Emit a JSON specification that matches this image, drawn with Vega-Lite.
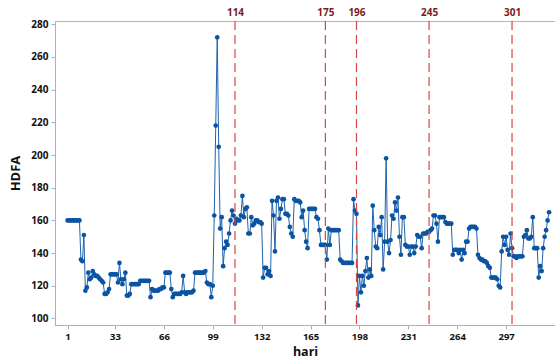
{
  "$schema": "https://vega.github.io/schema/vega-lite/v6.json",
  "autosize": {"type": "none"},
  "width": 500,
  "height": 304,
  "padding": {"left": 55, "top": 21, "right": 0, "bottom": 36},
  "background": "white",
  "config": {
    "view": {"stroke": "#b5b5b5", "strokeWidth": 1},
    "axis": {
      "grid": false,
      "domainColor": "#b0b0b0",
      "tickColor": "#b0b0b0",
      "tickSize": 4,
      "labelFont": "Open Sans",
      "labelFontWeight": "bold",
      "labelFontSize": 10,
      "labelColor": "#111111",
      "titleFont": "Open Sans",
      "titleFontWeight": "bold",
      "titleFontSize": 13,
      "titleColor": "#111111"
    }
  },
  "datasets": {
    "series": [
      {"d":1,"v":160},{"d":2,"v":160},{"d":3,"v":160},{"d":4,"v":160},{"d":5,"v":160},{"d":6,"v":160},{"d":7,"v":160},{"d":8,"v":160},{"d":9,"v":160},
      {"d":10,"v":136},{"d":11,"v":135},{"d":12,"v":151},{"d":13,"v":117},{"d":14,"v":119},{"d":15,"v":128},{"d":16,"v":124},{"d":17,"v":125},{"d":18,"v":129},{"d":19,"v":127},{"d":20,"v":126},
      {"d":21,"v":126},{"d":22,"v":125},{"d":23,"v":124},{"d":24,"v":123},{"d":25,"v":122},{"d":26,"v":115},{"d":27,"v":115},{"d":28,"v":116},{"d":29,"v":118},{"d":30,"v":127},
      {"d":31,"v":127},{"d":32,"v":127},{"d":33,"v":127},{"d":34,"v":127},{"d":35,"v":122},{"d":36,"v":134},{"d":37,"v":124},{"d":38,"v":121},{"d":39,"v":124},{"d":40,"v":128},
      {"d":41,"v":114},{"d":42,"v":114},{"d":43,"v":115},{"d":44,"v":121},{"d":45,"v":121},{"d":46,"v":121},{"d":47,"v":121},{"d":48,"v":121},{"d":49,"v":121},{"d":50,"v":123},
      {"d":51,"v":123},{"d":52,"v":123},{"d":53,"v":123},{"d":54,"v":123},{"d":55,"v":123},{"d":56,"v":123},{"d":57,"v":113},{"d":58,"v":118},{"d":59,"v":117},{"d":60,"v":117},
      {"d":61,"v":117},{"d":62,"v":117},{"d":63,"v":118},{"d":64,"v":118},{"d":65,"v":119},{"d":66,"v":119},{"d":67,"v":128},{"d":68,"v":128},{"d":69,"v":128},{"d":70,"v":128},
      {"d":71,"v":118},{"d":72,"v":113},{"d":73,"v":115},{"d":74,"v":115},{"d":75,"v":115},{"d":76,"v":115},{"d":77,"v":115},{"d":78,"v":116},{"d":79,"v":126},{"d":80,"v":116},
      {"d":81,"v":115},{"d":82,"v":116},{"d":83,"v":116},{"d":84,"v":116},{"d":85,"v":116},{"d":86,"v":117},{"d":87,"v":128},{"d":88,"v":128},{"d":89,"v":128},{"d":90,"v":128},
      {"d":91,"v":128},{"d":92,"v":128},{"d":93,"v":128},{"d":94,"v":129},{"d":95,"v":122},{"d":96,"v":121},{"d":97,"v":121},{"d":98,"v":113},{"d":99,"v":120},{"d":100,"v":163},
      {"d":101,"v":218},{"d":102,"v":272},{"d":103,"v":205},{"d":104,"v":155},{"d":105,"v":162},{"d":106,"v":132},{"d":107,"v":143},{"d":108,"v":147},{"d":109,"v":145},{"d":110,"v":152},
      {"d":111,"v":160},{"d":112,"v":166},{"d":113,"v":163},{"d":114,"v":158},{"d":115,"v":161},{"d":116,"v":160},{"d":117,"v":160},{"d":118,"v":163},{"d":119,"v":175},{"d":120,"v":162},
      {"d":121,"v":167},{"d":122,"v":168},{"d":123,"v":152},{"d":124,"v":152},{"d":125,"v":162},{"d":126,"v":157},{"d":127,"v":158},{"d":128,"v":160},{"d":129,"v":160},{"d":130,"v":159},
      {"d":131,"v":159},{"d":132,"v":158},{"d":133,"v":125},{"d":134,"v":131},{"d":135,"v":131},{"d":136,"v":127},{"d":137,"v":129},{"d":138,"v":126},{"d":139,"v":172},{"d":140,"v":163},
      {"d":141,"v":141},{"d":142,"v":172},{"d":143,"v":174},{"d":144,"v":161},{"d":145,"v":167},{"d":146,"v":173},{"d":147,"v":173},{"d":148,"v":164},{"d":149,"v":164},{"d":150,"v":163},
      {"d":151,"v":156},{"d":152,"v":152},{"d":153,"v":150},{"d":154,"v":173},{"d":155,"v":172},{"d":156,"v":172},{"d":157,"v":172},{"d":158,"v":171},{"d":159,"v":162},{"d":160,"v":166},
      {"d":161,"v":154},{"d":162,"v":147},{"d":163,"v":143},{"d":164,"v":167},{"d":165,"v":167},{"d":166,"v":167},{"d":167,"v":167},{"d":168,"v":167},{"d":169,"v":162},{"d":170,"v":161},
      {"d":171,"v":154},{"d":172,"v":145},{"d":173,"v":145},{"d":174,"v":145},{"d":175,"v":145},{"d":176,"v":136},{"d":177,"v":155},{"d":178,"v":145},{"d":179,"v":154},{"d":180,"v":154},
      {"d":181,"v":154},{"d":182,"v":154},{"d":183,"v":154},{"d":184,"v":154},{"d":185,"v":136},{"d":186,"v":135},{"d":187,"v":134},{"d":188,"v":134},{"d":189,"v":134},{"d":190,"v":134},
      {"d":191,"v":134},{"d":192,"v":134},{"d":193,"v":134},{"d":194,"v":173},{"d":195,"v":166},{"d":196,"v":164},{"d":197,"v":108},{"d":198,"v":126},{"d":199,"v":116},{"d":200,"v":126},
      {"d":201,"v":120},{"d":202,"v":129},{"d":203,"v":137},{"d":204,"v":125},{"d":205,"v":130},{"d":206,"v":126},{"d":207,"v":169},{"d":208,"v":154},{"d":209,"v":144},{"d":210,"v":143},
      {"d":211,"v":156},{"d":212,"v":151},{"d":213,"v":162},{"d":214,"v":130},{"d":215,"v":147},{"d":216,"v":198},{"d":217,"v":147},{"d":218,"v":140},{"d":219,"v":148},{"d":220,"v":163},
      {"d":221,"v":161},{"d":222,"v":171},{"d":223,"v":166},{"d":224,"v":174},{"d":225,"v":150},{"d":226,"v":139},{"d":227,"v":162},{"d":228,"v":162},{"d":229,"v":145},{"d":230,"v":144},
      {"d":231,"v":144},{"d":232,"v":139},{"d":233,"v":144},{"d":234,"v":144},{"d":235,"v":140},{"d":236,"v":144},{"d":237,"v":151},{"d":238,"v":150},{"d":239,"v":150},{"d":240,"v":143},
      {"d":241,"v":152},{"d":242,"v":152},{"d":243,"v":152},{"d":244,"v":153},{"d":245,"v":153},{"d":246,"v":154},{"d":247,"v":155},{"d":248,"v":163},{"d":249,"v":163},{"d":250,"v":158},
      {"d":251,"v":147},{"d":252,"v":162},{"d":253,"v":162},{"d":254,"v":162},{"d":255,"v":162},{"d":256,"v":159},{"d":257,"v":158},{"d":258,"v":158},{"d":259,"v":158},{"d":260,"v":158},
      {"d":261,"v":139},{"d":262,"v":142},{"d":263,"v":142},{"d":264,"v":142},{"d":265,"v":140},{"d":266,"v":142},{"d":267,"v":136},{"d":268,"v":142},{"d":269,"v":140},{"d":270,"v":147},
      {"d":271,"v":147},{"d":272,"v":155},{"d":273,"v":156},{"d":274,"v":156},{"d":275,"v":156},{"d":276,"v":156},{"d":277,"v":155},{"d":278,"v":139},{"d":279,"v":137},{"d":280,"v":136},
      {"d":281,"v":136},{"d":282,"v":135},{"d":283,"v":135},{"d":284,"v":134},{"d":285,"v":132},{"d":286,"v":131},{"d":287,"v":125},{"d":288,"v":125},{"d":289,"v":125},{"d":290,"v":125},
      {"d":291,"v":124},{"d":292,"v":120},{"d":293,"v":119},{"d":294,"v":141},{"d":295,"v":150},{"d":296,"v":145},{"d":297,"v":150},{"d":298,"v":142},{"d":299,"v":139},{"d":300,"v":152},
      {"d":301,"v":143},{"d":302,"v":138},{"d":303,"v":138},{"d":304,"v":137},{"d":305,"v":138},{"d":306,"v":138},{"d":307,"v":138},{"d":308,"v":138},{"d":309,"v":150},{"d":310,"v":151},
      {"d":311,"v":154},{"d":312,"v":149},{"d":313,"v":149},{"d":314,"v":150},{"d":315,"v":162},{"d":316,"v":143},{"d":317,"v":143},{"d":318,"v":143},{"d":319,"v":125},{"d":320,"v":132},
      {"d":321,"v":129},{"d":322,"v":143},{"d":323,"v":150},{"d":324,"v":154},{"d":325,"v":160},{"d":326,"v":165}
    ],
    "marks": [{"d":114},{"d":175},{"d":196},{"d":245},{"d":301}]
  },
  "layer": [
    {
      "data": {"name": "series"},
      "mark": {"type": "line", "color": "#1f63ad", "strokeWidth": 1,
               "point": {"filled": true, "color": "#0b54a2", "size": 22, "opacity": 1}},
      "encoding": {
        "x": {"field": "d", "type": "quantitative",
              "scale": {"domain": [-7.5, 330], "nice": false, "zero": false},
              "axis": {"orient": "bottom", "title": "hari", "values": [1,33,66,99,132,165,198,231,264,297], "labelPadding": 2, "titlePadding": 5, "titleFontSize": 12.5, "labelFontSize": 9.5}},
        "y": {"field": "v", "type": "quantitative",
              "scale": {"domain": [96, 282], "nice": false, "zero": false},
              "axis": {"title": "HDFA", "values": [100,120,140,160,180,200,220,240,260,280], "labelPadding": 3, "titlePadding": 8, "labelOverlap": false}}
      }
    },
    {
      "data": {"name": "marks"},
      "mark": {"type": "rule", "color": "#dc4444", "strokeWidth": 1.2, "strokeDash": [9, 5]},
      "encoding": {
        "x": {"field": "d", "type": "quantitative",
              "axis": {"orient": "top", "title": null, "values": [114,175,196,245,301], "domain": false, "ticks": false, "labelColor": "#7a1c1c", "labelPadding": 4, "labelFontSize": 10}}
      }
    }
  ],
  "resolve": {"axis": {"x": "independent"}}
}
